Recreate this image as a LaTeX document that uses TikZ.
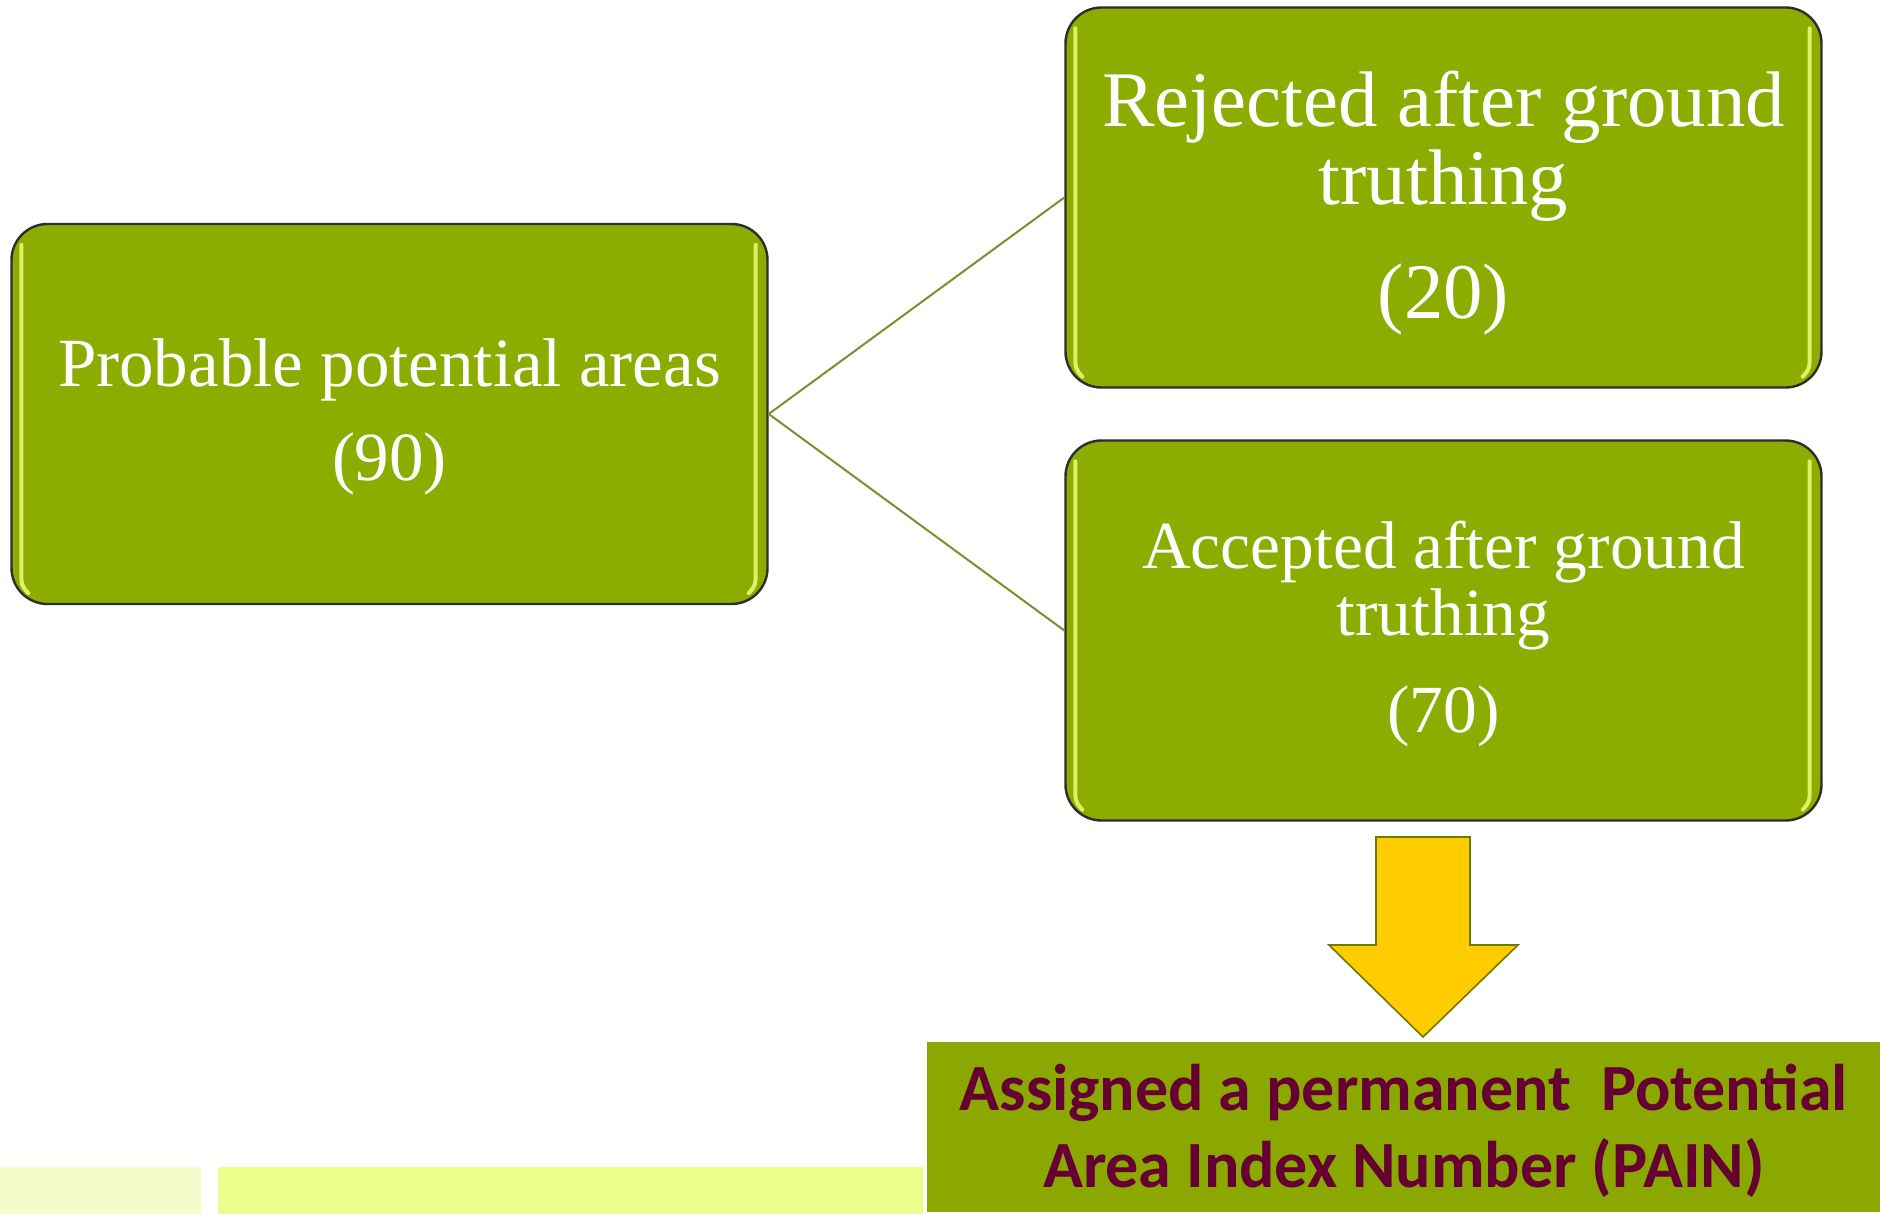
\documentclass[tikz,border=0pt]{standalone}
\usepackage{fontspec}
\setmainfont{Liberation Serif}
\newfontfamily\carlito{Carlito}
\definecolor{boxgreen}{RGB}{140,173,0}
\definecolor{pgreen}{RGB}{139,168,0}
\definecolor{hlgreen}{RGB}{222,240,100}
\definecolor{linkgreen}{RGB}{122,143,46}
\definecolor{arrowfill}{RGB}{255,204,0}
\definecolor{arrowline}{RGB}{107,123,0}
\definecolor{maroon}{RGB}{102,0,51}
\definecolor{stripa}{RGB}{244,252,204}
\definecolor{stripb}{RGB}{234,255,138}
\begin{document}
\begin{tikzpicture}[x=0.5pt,y=-0.5pt,
  gbox/.style={draw=black!82, line width=1.2pt, fill=boxgreen, rounded corners=18pt,
    minimum width=378pt, minimum height=190pt, inner sep=0pt},
  wtext/.style={align=center, text=white, inner sep=0pt},
  hl/.style={draw=hlgreen, line width=2pt, line cap=round},
  link/.style={draw=linkgreen, line width=1pt},
  pbox/.style={fill=pgreen, draw=none, inner sep=0pt, align=center, text=maroon,
    font=\carlito\bfseries\fontsize{33}{38.5}\selectfont}
]
\useasboundingbox (0,0) rectangle (1880,1214);
\fill[white] (0,0) rectangle (1880,1214);

% bottom strips
\fill[stripa] (0,1167) rectangle (201,1214);
\fill[stripb] (218,1167) rectangle (923,1214);

% boxes with their texts
\node[gbox, label={[name=probt, wtext, yshift=-1.5pt, font=\fontsize{34.5}{47}\selectfont]center:{Probable potential areas\\(90)}}]
  (prob) at (389.5,414) {};
\node[gbox, label={[name=rejt, wtext, yshift=-3pt, font=\fontsize{39.4}{39}\selectfont]center:{Rejected after ground\\truthing\\[18pt](20)}}]
  (rej) at (1443.5,197.5) {};
\node[gbox, label={[name=acct, wtext, yshift=-1.5pt, font=\fontsize{33.7}{33.5}\selectfont]center:{Accepted after ground\\truthing\\[15pt](70)}}]
  (acc) at (1443.5,630.5) {};

% glossy highlights
\foreach \b in {prob,rej,acc}{
  \draw[hl] ([xshift=5.5pt,yshift=-11pt]\b.north west) -- ([xshift=5.5pt,yshift=18pt]\b.south west)
     .. controls ([xshift=5.5pt,yshift=10pt]\b.south west) .. ([xshift=9pt,yshift=6pt]\b.south west);
  \draw[hl] ([xshift=-6.5pt,yshift=-11pt]\b.north east) -- ([xshift=-6.5pt,yshift=18pt]\b.south east)
     .. controls ([xshift=-6.5pt,yshift=10pt]\b.south east) .. ([xshift=-10pt,yshift=6pt]\b.south east);
}

% connectors
\draw[link] (prob.east) -- (rej.west);
\draw[link] (prob.east) -- (acc.west);

% result box
\node[pbox, minimum width=476.5pt, minimum height=85pt, anchor=north west,
  label={[name=paint, align=center, text=maroon, inner sep=0pt, yshift=-1.5pt,
    font=\carlito\bfseries\fontsize{33}{38.5}\selectfont]center:{Assigned a permanent\ \ Potential\\Area Index Number (PAIN)}}]
  (pain) at (927,1042) {};

% block arrow
\coordinate (atip) at (1423,1037);
\draw[fill=arrowfill, draw=arrowline, line width=0.8pt, line join=miter]
  (1376,837) -- (1470,837) -- (1470,945) -- (1518,945) -- (atip) -- (1329,945) -- (1376,945) -- cycle;
\end{tikzpicture}
\end{document}
